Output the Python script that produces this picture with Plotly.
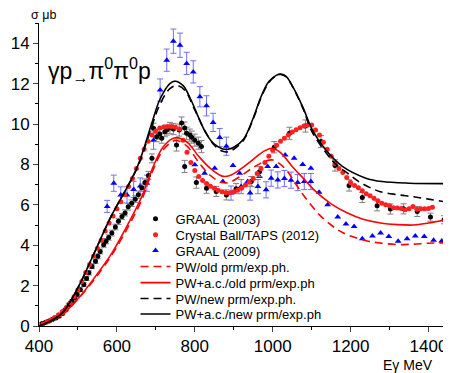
import plotly.graph_objects as go

# ---------------- data ----------------
# GRAAL (2003)
g03_E = [408, 417, 426, 434, 443, 451, 460, 468, 477, 485, 492, 498, 506, 515, 522, 528, 536, 545, 551, 557,
         566, 572, 579, 587, 596, 604, 613, 621, 629, 638, 647, 655, 664, 672, 681, 690, 694, 702, 710, 715,
         723, 728, 736, 745, 753, 760, 766, 774, 779, 787, 792, 800, 809, 817,
         774, 804, 830, 855, 881, 906, 945, 966, 1004, 1043, 1084, 1124, 1160, 1196, 1230, 1268, 1302, 1336,
         1371, 1405, 1440]
g03_s = [0.12, 0.18, 0.25, 0.32, 0.40, 0.48, 0.62, 0.80, 1.05, 1.22, 1.40, 1.56, 1.80, 2.05, 2.35, 2.63, 2.95, 3.20, 3.45, 3.69,
         4.02, 4.20, 4.38, 4.60, 4.90, 5.18, 5.42, 5.60, 5.90, 6.08, 6.28, 6.50, 6.85, 7.10, 7.45, 8.30, 9.79, 9.37, 9.50, 9.30,
         9.62, 9.70, 9.80, 9.75, 8.96, 9.70, 10.05, 9.80, 9.54, 9.45, 9.35, 9.20, 9.05, 8.88,
         7.90, 7.10, 6.82, 6.66, 6.49, 6.80, 7.15, 7.64, 8.85, 9.54, 9.90, 9.13, 7.95, 6.96, 6.36, 5.95, 5.79, 5.80,
         5.67, 5.39, 5.26]
g03_err = [0.05, 0.05, 0.05, 0.05, 0.06, 0.06, 0.07, 0.07, 0.08, 0.08, 0.08, 0.09, 0.09, 0.10, 0.10, 0.10, 0.11, 0.11, 0.12, 0.12,
           0.12, 0.13, 0.13, 0.14, 0.14, 0.15, 0.15, 0.15, 0.16, 0.16, 0.17, 0.18, 0.18, 0.18, 0.20, 0.22, 0.25, 0.25, 0.25, 0.25,
           0.25, 0.25, 0.28, 0.28, 0.30, 0.30, 0.30, 0.30, 0.30, 0.30, 0.30, 0.30, 0.30, 0.30,
           0.30, 0.28, 0.25, 0.25, 0.25, 0.25, 0.25, 0.25, 0.28, 0.30, 0.30, 0.30, 0.28, 0.28, 0.25, 0.25, 0.25, 0.25,
           0.25, 0.20, 0.20]

# Crystal Ball/TAPS (2012)
cb_E = list(range(410, 1411, 10))
cb_s = [0.10, 0.20, 0.30, 0.42, 0.56, 0.72, 0.92, 1.15, 1.45, 1.80, 2.20, 2.65, 3.05, 3.45, 3.85, 4.25, 4.70, 5.10, 5.45, 5.80,
        6.15, 6.50, 6.90, 7.30, 7.80, 8.30, 8.75, 9.15, 9.45, 9.65, 9.80, 9.85, 9.88, 9.88, 9.85, 9.75, 9.20, 8.60, 8.10, 7.70,
        7.40, 7.20, 7.05, 6.92, 6.82, 6.72, 6.65, 6.60, 6.60, 6.65, 6.72, 6.82, 6.98, 7.12, 7.30, 7.55, 7.80, 8.10, 8.40, 8.70,
        8.95, 9.15, 9.30, 9.45, 9.60, 9.72, 9.82, 9.90, 9.95, 9.95, 9.70, 9.45, 9.10, 8.75, 8.40, 8.05, 7.80, 7.60, 7.35, 7.10,
        6.95, 6.85, 6.70, 6.55, 6.45, 6.33, 6.20, 6.08, 6.00, 5.95, 5.86, 5.84, 5.82, 5.76, 5.80, 5.92, 5.78, 5.80, 5.80, 5.82,
        5.88]

# GRAAL (2009) - points with error bars
g09_E = [575, 592, 610, 626, 643, 660, 677, 694, 711, 728, 745, 762, 779, 796, 813, 830, 847, 864, 881,
         893, 919, 942, 962, 983, 996, 1013, 1030, 1047, 1064, 1081, 1098]
g09_s = [5.92, 7.07, 6.49, 6.49, 6.76, 6.93, 7.07, 9.20, 11.68, 13.16, 14.10, 13.90, 13.00, 12.58, 11.35, 10.90, 10.08, 9.33, 8.90,
         6.58, 6.90, 6.58, 6.90, 6.74, 7.32, 7.23, 7.30, 7.22, 7.10, 7.15, 7.15]
g09_err = [0.30, 0.40, 0.40, 0.40, 0.40, 0.40, 0.40, 0.45, 0.55, 0.55, 0.60, 0.60, 0.55, 0.55, 0.50, 0.50, 0.45, 0.45, 0.45,
           0.35, 0.35, 0.35, 0.35, 0.40, 0.40, 0.40, 0.40, 0.40, 0.40, 0.40, 0.40]
# GRAAL (2009) - points without visible error bars
g09b_E = [800, 825, 851, 872, 898, 915, 936, 966, 987, 1009, 1032, 1055, 1077, 1098, 1119, 1141, 1167, 1188, 1209,
          1230, 1256, 1277, 1298, 1322, 1345, 1366, 1389, 1413, 1434, 1452]
g09b_s = [7.98, 7.56, 7.81, 7.15, 7.95, 7.56, 7.15, 7.40, 7.90, 7.90, 8.47, 8.30, 8.00, 7.81, 6.62, 6.00, 5.40, 5.05, 4.93,
          4.32, 4.45, 4.60, 4.43, 4.19, 4.32, 4.45, 4.43, 4.24, 4.21, 3.78]

# PW/old prm/exp.ph. (red dashed)
rd_E = [400, 430, 460, 500, 545, 587, 630, 664, 689, 720, 750, 780, 810, 840, 870, 890, 920, 950, 980, 1000,
        1020, 1040, 1060, 1080, 1100, 1120, 1150, 1175, 1200, 1240, 1270, 1320, 1360, 1400, 1450]
rd_s = [0.0, 0.25, 0.55, 1.33, 2.38, 3.52, 4.95, 6.25, 7.55, 8.75, 9.18, 8.90, 8.10, 7.45, 7.10, 7.12, 7.45, 7.85, 8.15, 8.22,
        8.00, 7.60, 7.00, 6.45, 5.95, 5.50, 5.00, 4.67, 4.45, 4.22, 4.12, 4.03, 4.05, 4.10, 4.12]

# PW+a.c./old prm/exp.ph (red solid)
rs_E = [400, 430, 460, 502, 545, 587, 630, 664, 689, 720, 750, 780, 810, 840, 870, 890, 920, 950, 980, 1000,
        1020, 1050, 1080, 1106, 1150, 1192, 1230, 1277, 1320, 1362, 1400, 1450]
rs_s = [0.0, 0.27, 0.57, 1.39, 2.46, 3.61, 5.10, 6.41, 7.70, 8.90, 9.32, 9.10, 8.40, 7.80, 7.42, 7.45, 7.80, 8.25, 8.68, 8.80,
        8.58, 7.90, 7.28, 6.74, 6.05, 5.59, 5.30, 5.10, 5.02, 5.00, 5.10, 5.28]

# PW/new prm/exp.ph. (black dashed)
bd_E = [400, 430, 460, 500, 545, 587, 630, 655, 689, 710, 736, 755, 775, 800, 825, 850, 870, 885, 900, 925,
        950, 970, 990, 1010, 1021, 1035, 1050, 1077, 1100, 1136, 1160, 1193, 1221, 1250, 1276, 1320, 1360, 1400, 1450]
bd_s = [0.0, 0.25, 0.65, 1.90, 3.75, 5.50, 7.00, 7.95, 9.85, 10.95, 11.75, 11.90, 11.65, 10.70, 9.70, 8.95, 8.66, 8.62, 8.75, 9.20,
        10.25, 11.30, 12.05, 12.40, 12.45, 12.33, 11.88, 10.80, 9.65, 8.60, 8.05, 7.55, 7.15, 6.85, 6.65, 6.50, 6.40, 6.28, 6.12]

# PW+a.c./new prm/exp.ph (black solid)
bs_E = [400, 430, 460, 500, 545, 587, 630, 655, 689, 710, 736, 750, 770, 790, 810, 830, 850, 870, 885, 900,
        925, 950, 970, 990, 1010, 1021, 1035, 1050, 1077, 1102, 1136, 1179, 1239, 1281, 1350, 1450]
bs_s = [0.0, 0.25, 0.65, 1.90, 3.75, 5.50, 7.00, 8.00, 10.00, 11.20, 12.00, 12.12, 11.90, 11.20, 10.30, 9.50, 9.00, 8.78, 8.75, 8.85,
        9.25, 10.30, 11.35, 12.10, 12.42, 12.47, 12.35, 11.90, 10.85, 9.70, 8.72, 7.90, 7.32, 7.15, 7.07, 7.05]

x_ticks = [400, 600, 800, 1000, 1200, 1400]
y_ticks = [0, 2, 4, 6, 8, 10, 12, 14]

FONT = "Arial, Liberation Sans, sans-serif"
LEG_FONT = dict(size=13, family=FONT, color="black")

fig = go.Figure()

fig.add_trace(go.Scatter(
    x=g09_E, y=g09_s, mode="markers", name="GRAAL (2009)", legend="legend3",
    marker=dict(symbol="triangle-up", size=6, color="#0000ff"),
    error_y=dict(type="data", array=g09_err, color="#7070ff", thickness=1, width=3)))
fig.add_trace(go.Scatter(
    x=g09b_E, y=g09b_s, mode="markers", name="GRAAL (2009)", legend="legend3", showlegend=False,
    marker=dict(symbol="triangle-up", size=6, color="#0000ff")))
fig.add_trace(go.Scatter(
    x=g03_E, y=g03_s, mode="markers", name="GRAAL (2003)", legend="legend",
    marker=dict(symbol="circle", size=5, color="#000000"),
    error_y=dict(type="data", array=g03_err, color="#808080", thickness=1, width=3)))
fig.add_trace(go.Scatter(
    x=cb_E, y=cb_s, mode="markers", name="Crystal Ball/TAPS (2012)", legend="legend2",
    marker=dict(symbol="circle", size=5, color="#ff2020", line=dict(width=0))))

fig.add_trace(go.Scatter(
    x=rd_E, y=rd_s, mode="lines", name="PW/old prm/exp.ph.", legend="legend4", line_shape="spline",
    line=dict(color="#ff0000", width=1.6, dash="8px,5px")))
fig.add_trace(go.Scatter(
    x=rs_E, y=rs_s, mode="lines", name="PW+a.c./old prm/exp.ph", legend="legend5", line_shape="spline",
    line=dict(color="#ff0000", width=1.6)))
fig.add_trace(go.Scatter(
    x=bd_E, y=bd_s, mode="lines", name="PW/new prm/exp.ph.", legend="legend6", line_shape="spline",
    line=dict(color="#000000", width=1.6, dash="8px,5px")))
fig.add_trace(go.Scatter(
    x=bs_E, y=bs_s, mode="lines", name="PW+a.c./new prm/exp.ph", legend="legend7", line_shape="spline",
    line=dict(color="#000000", width=1.6)))

# legend rows (one legend per row, to match the tight row spacing)
row_y = [0.354, 0.301, 0.2486, 0.196, 0.143, 0.0905, 0.0395]
legends = {}
for i, yy in enumerate(row_y):
    key = "legend" if i == 0 else f"legend{i + 1}"
    legends[key] = dict(x=0.236, y=yy, xanchor="left", yanchor="middle", font=LEG_FONT,
                        bgcolor="rgba(0,0,0,0)", borderwidth=0, itemwidth=30)

# page body has an 8px default margin: size the figure so the page is exactly 451x373
fig.update_layout(
    width=443, height=365,
    margin=dict(l=29, r=3, t=15, b=47),
    paper_bgcolor="white", plot_bgcolor="white",
    font=dict(family=FONT, color="black"),
    showlegend=True,
    xaxis=dict(range=[400, 1450], tickvals=x_ticks, ticks="outside", ticklen=5, tickwidth=1,
               showline=True, linecolor="black", linewidth=1, showgrid=False, zeroline=False,
               tickfont=dict(size=17, family=FONT),
               minor=dict(dtick=100, tick0=400, ticks="outside", ticklen=3, tickcolor="black")),
    yaxis=dict(range=[0, 15], tickvals=y_ticks, ticks="outside", ticklen=5, tickwidth=1,
               showline=True, linecolor="black", linewidth=1, showgrid=False, zeroline=False,
               tickfont=dict(size=17, family=FONT),
               minor=dict(dtick=1, tick0=0, ticks="outside", ticklen=3, tickcolor="black")),
    annotations=[
        dict(text="σ μb", xref="paper", yref="paper", x=0.0105, y=1.025, showarrow=False,
             xanchor="center", yanchor="middle", font=dict(size=12.5, family=FONT)),
        dict(text="Eγ MeV", xref="paper", yref="paper", x=0.903, y=-0.130, showarrow=False,
             xanchor="center", yanchor="middle", font=dict(size=14, family=FONT)),
        dict(text="γp<sub>→</sub>π<sup>0</sup>π<sup>0</sup>p", xref="paper", yref="paper",
             x=0.149, y=0.8445, showarrow=False, xanchor="center", yanchor="middle",
             font=dict(size=23, family=FONT)),
    ],
    **legends,
)

fig.write_html("out.html")
